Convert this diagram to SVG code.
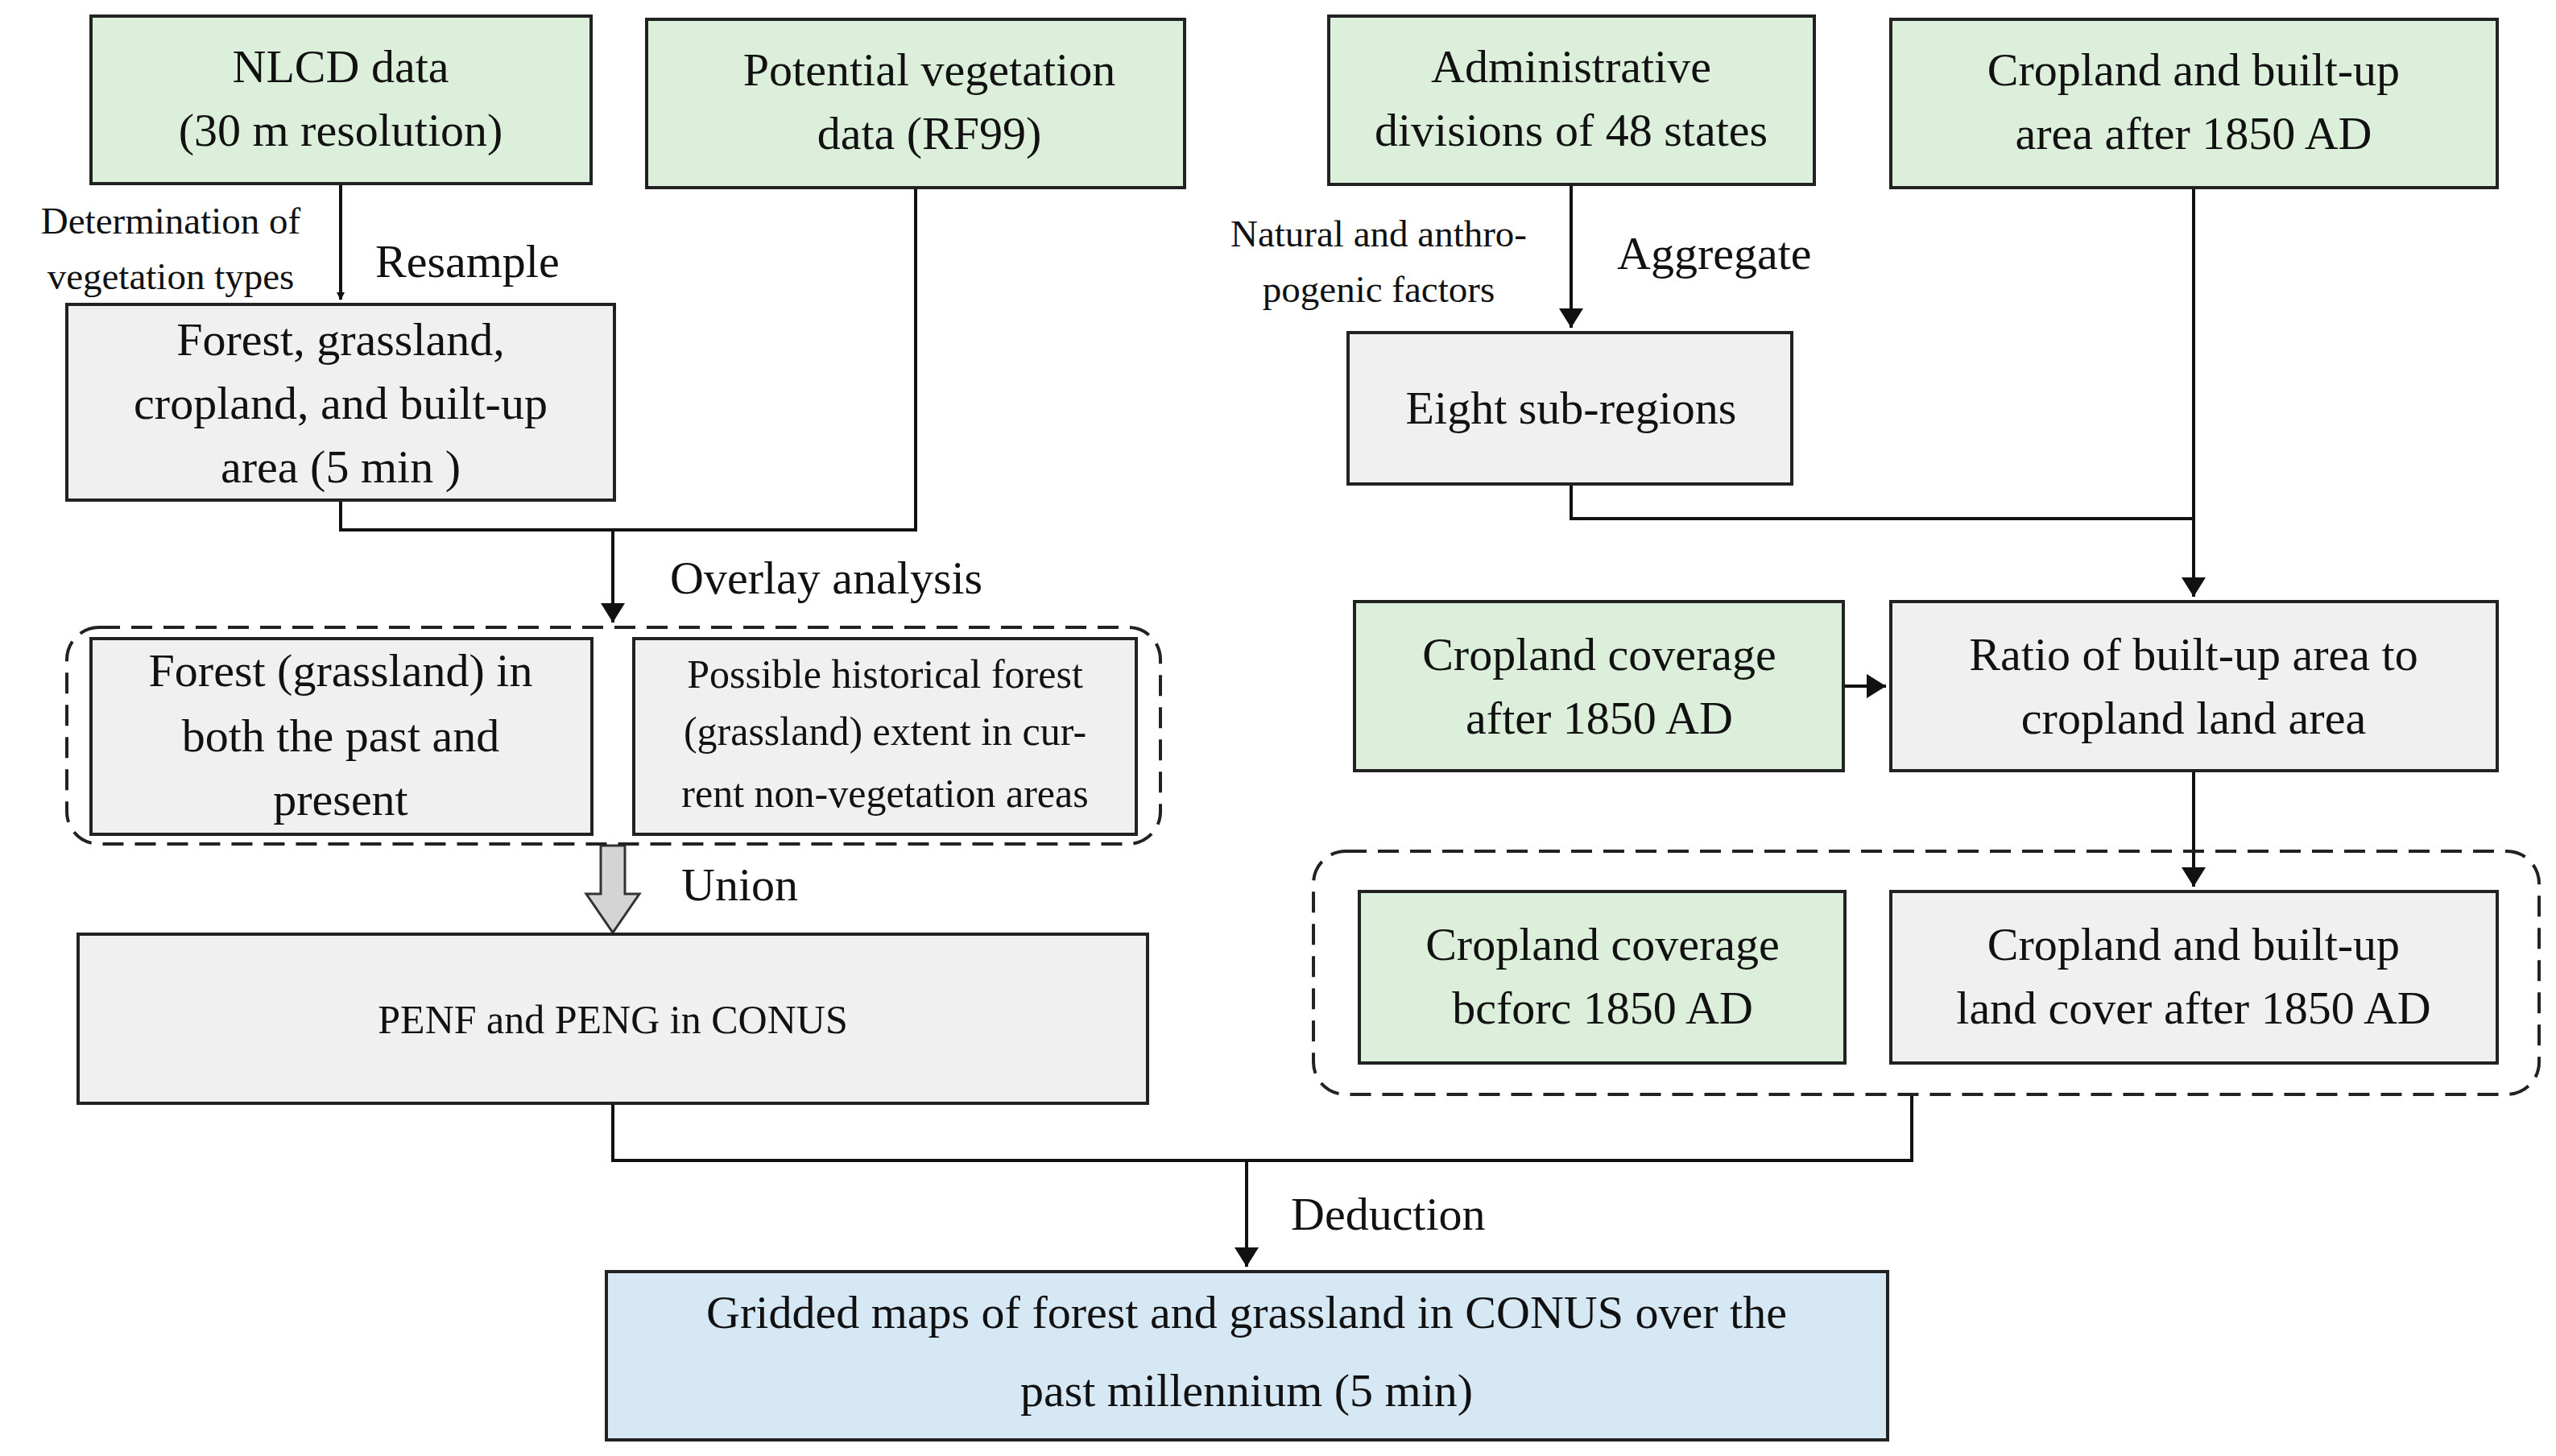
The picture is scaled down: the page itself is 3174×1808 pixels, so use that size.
<svg xmlns="http://www.w3.org/2000/svg" width="3174" height="1808" viewBox="0 0 3174 1808">
<defs>
<style>
text{font-family:"Liberation Serif","Times New Roman",serif;fill:#111;}
.t{font-size:58px;text-anchor:middle;}
.s{font-size:50px;text-anchor:middle;}
.l{font-size:58px;}
.g{fill:#dcefdb;stroke:#222;stroke-width:4;}
.w{fill:#f0f0f0;stroke:#222;stroke-width:4;}
.b{fill:#d7e8f5;stroke:#222;stroke-width:4;}
.d{fill:none;stroke:#222;stroke-width:4;stroke-dasharray:26 14;}
.c{fill:none;stroke:#111;stroke-width:4;}
</style>
<marker id="a" markerWidth="10" markerHeight="10" refX="9" refY="5" orient="auto" markerUnits="userSpaceOnUse" viewBox="0 0 10 10"><path d="M0,0L10,5L0,10z" fill="#111"/></marker>
</defs>
<rect width="3174" height="1808" fill="#fff"/>
<g id="connectors">
<path class="c" d="M423,229V372" marker-end="url(#a)" style="marker-end:url(#a)"/>
<path class="c" d="M423,621V658H1137V233"/>
<path class="c" d="M761,658V773" marker-end="url(#a)"/>
<path class="c" d="M1951,229V407" marker-end="url(#a)"/>
<path class="c" d="M1951,601V644H2724"/>
<path class="c" d="M2724,233V741" marker-end="url(#a)"/>
<path class="c" d="M2289,852H2342" marker-end="url(#a)"/>
<path class="c" d="M2724,957V1101" marker-end="url(#a)"/>
<path class="c" d="M761,1370V1441H2374V1359"/>
<path class="c" d="M1548,1441V1573" marker-end="url(#a)"/>
<path d="M746,1050H776V1110H794L761,1158L728,1110H746Z" fill="#d4d4d4" stroke="#333" stroke-width="3"/>
</g>
<defs>
<marker id="m" markerWidth="24" markerHeight="30" refX="24" refY="15" orient="auto" markerUnits="userSpaceOnUse"><path d="M0,0L24,15L0,30z" fill="#111"/></marker>
</defs>
<style>.c[marker-end]{marker-end:url(#m)}</style>
<g id="nlcd"><rect class="g" x="113" y="20" width="621" height="208"/><text class="t" x="423" y="102">NLCD data</text><text class="t" x="423" y="181">(30 m resolution)</text></g>
<g id="potveg"><rect class="g" x="803" y="24" width="668" height="209"/><text class="t" x="1154" y="106">Potential vegetation</text><text class="t" x="1154" y="185">data (RF99)</text></g>
<g id="admin"><rect class="g" x="1650" y="20" width="603" height="209"/><text class="t" x="1951" y="102">Administrative</text><text class="t" x="1951" y="181">divisions of 48 states</text></g>
<g id="cropbuilt"><rect class="g" x="2348" y="24" width="753" height="209"/><text class="t" x="2724" y="106">Cropland and built-up</text><text class="t" x="2724" y="185">area after 1850 AD</text></g>
<g id="fgcb"><rect class="w" x="83" y="378" width="680" height="243"/><text class="t" x="423" y="441">Forest, grassland,</text><text class="t" x="423" y="520">cropland, and built-up</text><text class="t" x="423" y="599">area (5 min )</text></g>
<g id="eight"><rect class="w" x="1674" y="413" width="551" height="188"/><text class="t" x="1951" y="526">Eight sub-regions</text></g>
<g id="grp1"><rect class="d" x="83" y="779" width="1358" height="269" rx="40"/>
<g id="both"><rect class="w" x="113" y="793" width="622" height="243"/><text class="t" x="423" y="852">Forest (grassland) in</text><text class="t" x="423" y="933">both the past and</text><text class="t" x="423" y="1012">present</text></g>
<g id="possible"><rect class="w" x="787" y="793" width="624" height="243"/><text class="s" x="1099" y="854">Possible historical forest</text><text class="s" x="1099" y="925">(grassland) extent in cur-</text><text class="s" x="1099" y="1002">rent non-vegetation areas</text></g>
</g>
<g id="penf"><rect class="w" x="97" y="1160" width="1328" height="210"/><text class="s" x="761" y="1283">PENF and PENG in CONUS</text></g>
<g id="cropafter"><rect class="g" x="1682" y="747" width="607" height="210"/><text class="t" x="1986" y="832">Cropland coverage</text><text class="t" x="1986" y="911">after 1850 AD</text></g>
<g id="ratio"><rect class="w" x="2348" y="747" width="753" height="210"/><text class="t" x="2724" y="832">Ratio of built-up area to</text><text class="t" x="2724" y="911">cropland land area</text></g>
<g id="grp2"><rect class="d" x="1631" y="1057" width="1522" height="302" rx="40"/>
<g id="cropbefore"><rect class="g" x="1688" y="1107" width="603" height="213"/><text class="t" x="1990" y="1192">Cropland coverage</text><text class="t" x="1990" y="1271">bcforc 1850 AD</text></g>
<g id="cropcover"><rect class="w" x="2348" y="1107" width="753" height="213"/><text class="t" x="2724" y="1192">Cropland and built-up</text><text class="t" x="2724" y="1271">land cover after 1850 AD</text></g>
</g>
<g id="gridded"><rect class="b" x="753" y="1579" width="1591" height="209"/><text class="t" x="1548" y="1649">Gridded maps of forest and grassland in CONUS over the</text><text class="t" x="1548" y="1746">past millennium (5 min)</text></g>
<g id="labels">
<text style="font-size:47px;text-anchor:middle" x="212" y="290">Determination of</text>
<text style="font-size:47px;text-anchor:middle" x="212" y="359">vegetation types</text>
<text class="l" x="466" y="344">Resample</text>
<text style="font-size:47px;text-anchor:middle" x="1712" y="306">Natural and anthro-</text>
<text style="font-size:47px;text-anchor:middle" x="1712" y="375">pogenic factors</text>
<text class="l" x="2008" y="334">Aggregate</text>
<text class="l" x="832" y="737">Overlay analysis</text>
<text class="l" x="846" y="1118">Union</text>
<text class="l" x="1603" y="1527">Deduction</text>
</g>
</svg>
